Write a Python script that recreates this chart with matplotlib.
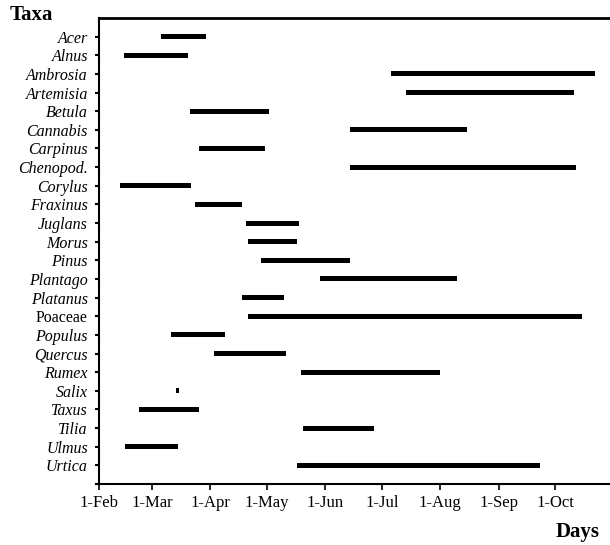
import matplotlib
matplotlib.use("Agg")
import matplotlib.pyplot as plt

# pollen season per taxon, in days after 1 Feb
taxa = ["Acer", "Alnus", "Ambrosia", "Artemisia", "Betula", "Cannabis", "Carpinus",
        "Chenopod.", "Corylus", "Fraxinus", "Juglans", "Morus", "Pinus", "Plantago",
        "Platanus", "Poaceae", "Populus", "Quercus", "Rumex", "Salix", "Taxus",
        "Tilia", "Ulmus", "Urtica"]
start = [33, 13, 155, 163, 48, 133, 53, 133, 11, 51, 78, 79, 86, 117,
         76, 79, 38, 61, 107, 41, 21, 108, 14, 105]
end = [57, 47, 263, 252, 90, 195, 88, 253, 49, 76, 106, 105, 133, 190,
       98, 256, 67, 99, 181, 42.5, 53, 146, 42, 234]

month_days = [0, 28, 59, 89, 120, 150, 181, 212, 242]
month_labels = ["1-Feb", "1-Mar", "1-Apr", "1-May", "1-Jun", "1-Jul", "1-Aug", "1-Sep", "1-Oct"]

plt.rcParams["font.family"] = ["Liberation Serif", "DejaVu Serif"]

fig = plt.figure(figsize=(6.1, 5.45), dpi=100)
ax = fig.add_axes([99 / 610, 1 - 484 / 545, 1 - 99 / 610, (484 - 18) / 545])

ypos = list(range(len(taxa)))
widths = [e - s for s, e in zip(start, end)]
ax.barh(ypos, widths, left=start, height=0.27, color="black")

ax.set_xlim(0, 271)
ax.set_ylim(len(taxa), -1)
ax.set_yticks(ypos + [len(taxa)])
ax.set_yticklabels(taxa + [""])
for lab in ax.get_yticklabels():
    if lab.get_text() != "Poaceae":
        lab.set_style("italic")
ax.set_xticks(month_days)
ax.set_xticklabels(month_labels)

ax.tick_params(axis="y", labelsize=11.5, length=3, width=1.5, pad=5)
ax.tick_params(axis="x", labelsize=12, length=4, width=1.2, pad=4)

ax.spines["right"].set_visible(False)
ax.spines["top"].set_linewidth(2)
ax.spines["left"].set_linewidth(1.5)
ax.spines["bottom"].set_linewidth(1.5)

fig.text(10 / 610, 1 - 15 / 545, "Taxa", fontsize=15, fontweight="bold", va="center", ha="left")
fig.text(600 / 610, 1 - 532 / 545, "Days", fontsize=15, fontweight="bold", va="center", ha="right")

fig.savefig("out.png", dpi=100)
